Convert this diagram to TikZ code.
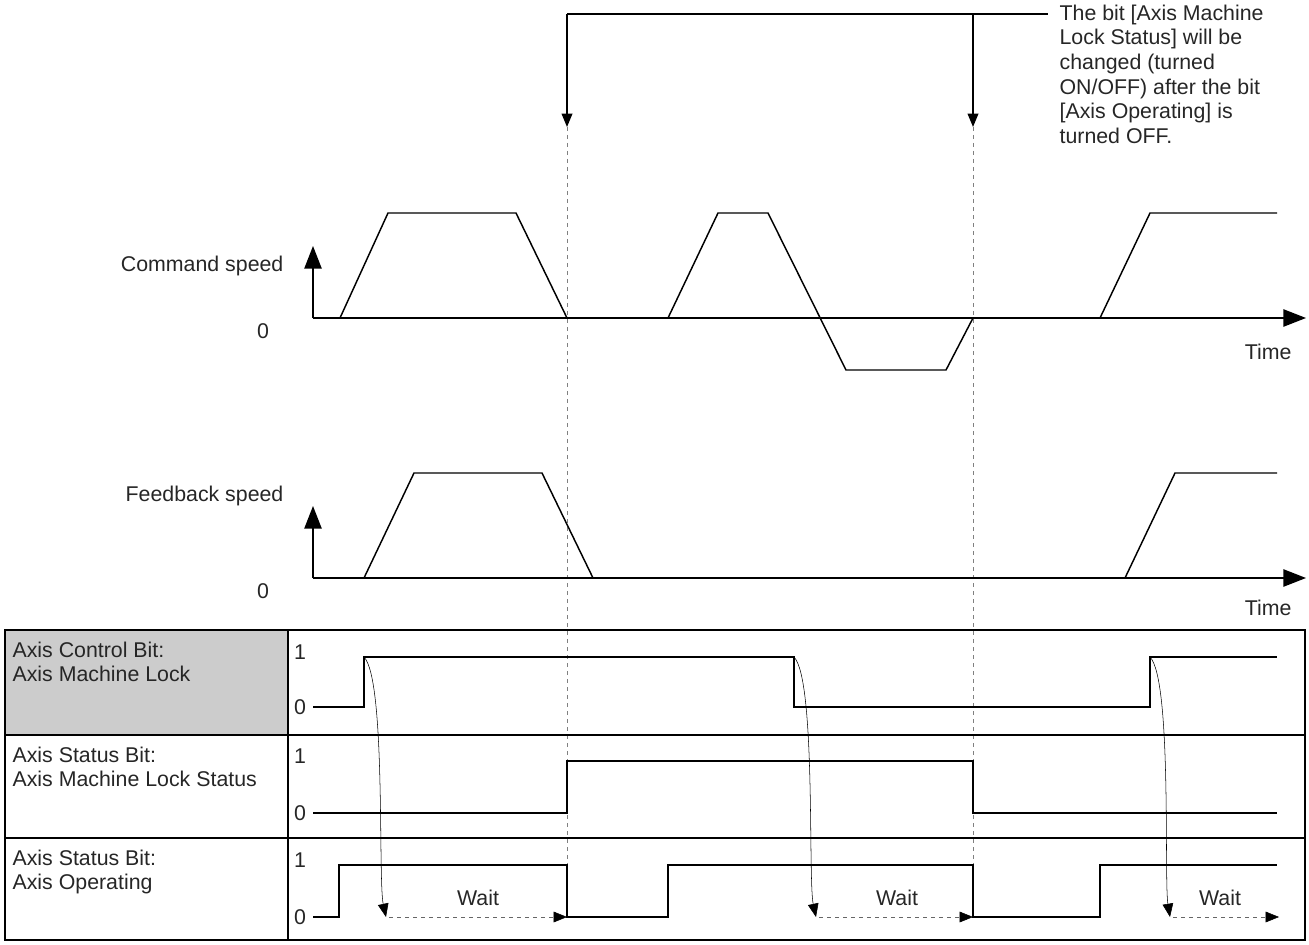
\documentclass[tikz,border=0pt]{standalone}
\usepackage{fontspec}
\setmainfont{Liberation Sans}
\usetikzlibrary{arrows.meta,positioning,calc}
\tikzset{
  sig/.style={line width=1.1pt},
  guide/.style={gray,dashed,thin},
  lbl/.style={font=\fontsize{16}{18.5}\selectfont,inner sep=1pt,text=black!85},
  axisarr/.style={line width=1.1pt,-{Triangle[length=17pt,width=13pt]}},
  tip/.style={-{Triangle[length=10pt,width=8pt]}},
}
\begin{document}
\begin{tikzpicture}[x=0.75pt,y=-0.75pt]
    \useasboundingbox (0,0) rectangle (1309,945);

    % Note at the top
    \coordinate (n1) at (567,14);
    \coordinate (n2) at (973,14);
    \draw[sig] (n1) -- (1048,14);
    \draw[sig,tip] (n1) -- (567,127);
    \draw[sig,tip] (n2) -- (973,127);
    \node[lbl,anchor=north west,align=left] (note) at (1058,3)
      {The bit [Axis Machine\\Lock Status] will be\\changed (turned\\ON/OFF) after the bit\\{}[Axis Operating] is\\turned OFF.};

    % Dashed guides
    \draw[guide] (567,127) -- (567,917);
    \draw[guide] (973,127) -- (973,917);

    % Command speed
    \coordinate (o1) at (313,318);
    \draw[axisarr] (o1) -- (313,246);
    \draw[axisarr] (o1) -- (1306,318);
    \node[lbl,anchor=east] (cs) at (285,266) {Command speed};
    \node[lbl] (z1) at (263,331) {0};
    \node[lbl,anchor=east] (t1) at (1293,352) {Time};
    \draw[sig] (340,318) -- (388,213) -- (516,213) -- (567,318);
    \draw[sig] (668,318) -- (718,213) -- (768,213) -- (846,370) -- (946,370) -- (973,318);
    \draw[sig] (1100,318) -- (1150,213) -- (1277,213);

    % Feedback speed
    \coordinate (o2) at (313,578);
    \draw[axisarr] (o2) -- (313,506);
    \draw[axisarr] (o2) -- (1306,578);
    \node[lbl,anchor=east] (fs) at (285,496) {Feedback speed};
    \node[lbl] (z2) at (263,591) {0};
    \node[lbl,anchor=east] (t2) at (1293,608) {Time};
    \draw[sig] (364,578) -- (414,473) -- (542,473) -- (593,578);
    \draw[sig] (1125,578) -- (1175,473) -- (1277,473);

    % Table
    \fill[gray!40] (5,630) rectangle (288,735);
    \draw[sig] (5,630) rectangle (1305,940);
    \draw[sig] (5,735) -- (1305,735);
    \draw[sig] (5,838) -- (1305,838);
    \draw[sig] (288,630) -- (288,940);
    \node[lbl,anchor=north west,align=left] (r1) at (11,640) {Axis Control Bit:\\Axis Machine Lock};
    \node[lbl,anchor=north west,align=left] (r2) at (11,745) {Axis Status Bit:\\Axis Machine Lock Status};
    \node[lbl,anchor=north west,align=left] (r3) at (11,848) {Axis Status Bit:\\Axis Operating};
    \foreach \hi/\lo in {657/707,761/813,865/917} {
        \node[lbl] at (300,\hi-5) {1};
        \node[lbl] at (300,\lo) {0};
    }

    % Bit signals
    \draw[sig] (313,707) -- (364,707) -- (364,657) -- (794,657) -- (794,707) -- (1150,707) -- (1150,657) -- (1277,657);
    \draw[sig] (313,813) -- (567,813) -- (567,761) -- (973,761) -- (973,813) -- (1277,813);
    \draw[sig] (313,917) -- (339,917) -- (339,865) -- (567,865) -- (567,917) -- (668,917) -- (668,865) -- (973,865) -- (973,917) -- (1100,917) -- (1100,865) -- (1277,865);

    % Wait arrows
    \foreach \a/\b/\c/\w in {364/386/567/478, 794/816/973/897, 1150/1170/1279/1220} {
        \draw[tip] (\a,657) .. controls (\a+22,680) and (\a+14,880) .. (\b,917);
        \draw[guide,black!60,-{Triangle[length=10pt,width=8pt,color=black]}] (\b+3,917) -- (\c,917);
        \node[lbl] at (\w,898) {Wait};
    }
\end{tikzpicture}
\end{document}
